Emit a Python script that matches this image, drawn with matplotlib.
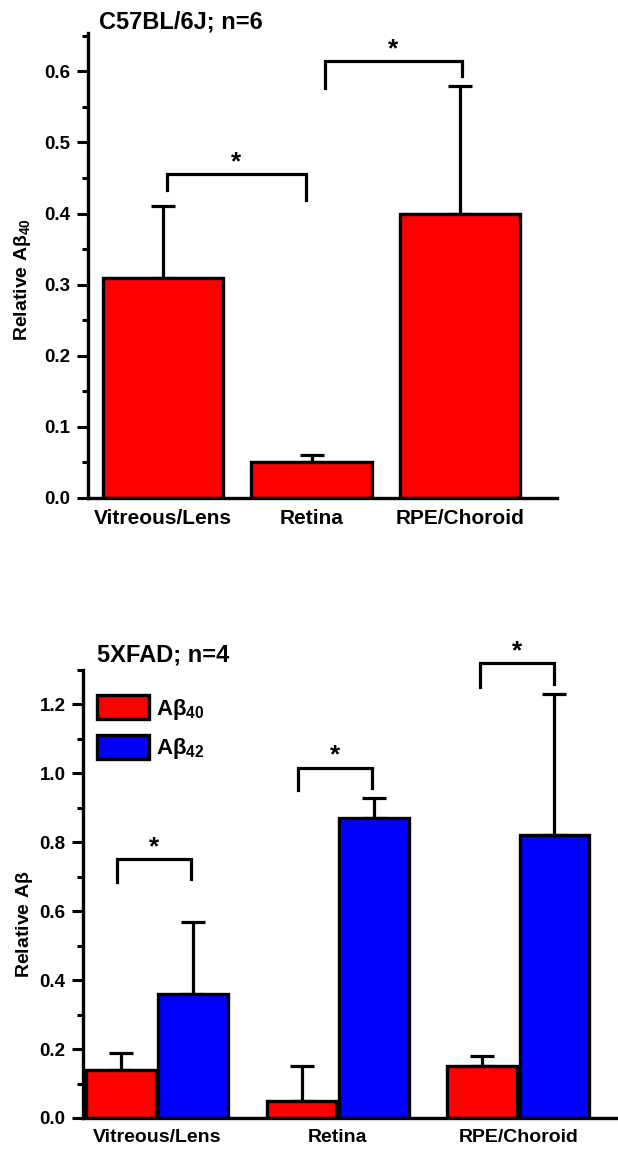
import numpy as np
import matplotlib
matplotlib.use("Agg")
import matplotlib.pyplot as plt
from matplotlib.ticker import MultipleLocator

plt.rcParams['font.family'] = ['Liberation Sans', 'DejaVu Sans']
plt.rcParams['font.weight'] = 'bold'
plt.rcParams['mathtext.fontset'] = 'custom'
plt.rcParams['mathtext.rm'] = 'Liberation Sans:bold'
plt.rcParams['mathtext.it'] = 'Liberation Sans:bold'
plt.rcParams['mathtext.bf'] = 'Liberation Sans:bold'

# top panel: C57BL/6J
tissues = ['Vitreous/Lens', 'Retina', 'RPE/Choroid']
wt_ab40 = [0.31, 0.05, 0.40]
wt_err = [0.10, 0.01, 0.18]
# significance brackets (left x, right x, top y, left tip y, right tip y)
wt_brackets = [(0.03, 0.96, 0.455, 0.433, 0.419),
               (1.09, 2.01, 0.614, 0.576, 0.593)]

# bottom panel: 5XFAD
fad_ab40 = [0.14, 0.05, 0.15]
fad_ab40_err = [0.05, 0.10, 0.03]
fad_ab42 = [0.36, 0.87, 0.82]
fad_ab42_err = [0.21, 0.06, 0.41]
fad_brackets = [(-0.22, 0.19, 0.751, 0.684, 0.693),
                (-0.22 + 1, 0.19 + 1, 1.017, 0.951, 0.957),
                (-0.21 + 2, 0.20 + 2, 1.319, 1.25, 1.258)]

W, H = 618, 1155
fig = plt.figure(figsize=(W / 100, H / 100), dpi=100)

def px_axes(l, r, t, b):
    return fig.add_axes([l / W, 1 - b / H, (r - l) / W, (b - t) / H])

def style(ax, xsize):
    for s in ['top', 'right']:
        ax.spines[s].set_visible(False)
    for s in ['left', 'bottom']:
        ax.spines[s].set_linewidth(2.4)
    ax.tick_params(axis='y', which='major', length=8, width=2.2, labelsize=13.5, pad=4.5)
    ax.tick_params(axis='y', which='minor', length=4.5, width=2.2)
    ax.tick_params(axis='x', length=0, labelsize=xsize, pad=8)
    for lab in ax.get_xticklabels() + ax.get_yticklabels():
        lab.set_fontweight('bold')

def bracket(ax, b):
    x0, x1, y, y0, y1 = b
    ax.plot([x0, x0, x1, x1], [y0, y, y, y1], color='black', lw=2.3,
            solid_joinstyle='miter', clip_on=False)
    ax.text((x0 + x1) / 2, y, '*', ha='center', va='bottom',
            fontsize=19, fontweight='bold', clip_on=False)

# ---- top ----
ax1 = px_axes(88, 557, 33, 498)
x = np.arange(len(tissues))
ax1.bar(x, wt_ab40, width=0.81, color='#ff0000', edgecolor='black', linewidth=2.4, zorder=2)
ax1.errorbar(x, wt_ab40, yerr=[np.zeros(3), wt_err], fmt='none', ecolor='black',
             elinewidth=2.3, capsize=8.5, capthick=2.3, zorder=1)
ax1.set_xlim(-0.505, 2.653)
ax1.set_ylim(0, 0.654)
ax1.yaxis.set_major_locator(MultipleLocator(0.1))
ax1.yaxis.set_minor_locator(MultipleLocator(0.05))
ax1.set_xticks(x)
ax1.set_xticklabels(tissues)
ax1.set_ylabel(r'Relative $\mathbf{Aβ_{40}}$', fontsize=14, fontweight='bold')
ax1.yaxis.set_label_coords(-0.117, 0.47)
style(ax1, 15)
for b in wt_brackets:
    bracket(ax1, b)
fig.text(99 / W, 1 - 21.5 / H, 'C57BL/6J; n=6', fontsize=17, fontweight='bold',
         ha='left', va='center')

# ---- bottom ----
ax2 = px_axes(83, 617, 670, 1118)
ax2.bar(x - 0.2, fad_ab40, width=0.385, color='#ff0000', edgecolor='black', linewidth=2.4,
        zorder=2, label=r'$\mathbf{Aβ_{40}}$')
ax2.bar(x + 0.2, fad_ab42, width=0.385, color='#0000ff', edgecolor='black', linewidth=2.4,
        zorder=2, label=r'$\mathbf{Aβ_{42}}$')
ax2.errorbar(x - 0.2, fad_ab40, yerr=[np.zeros(3), fad_ab40_err], fmt='none', ecolor='black',
             elinewidth=2.3, capsize=8.5, capthick=2.3, zorder=1)
ax2.errorbar(x + 0.2, fad_ab42, yerr=[np.zeros(3), fad_ab42_err], fmt='none', ecolor='black',
             elinewidth=2.3, capsize=8.5, capthick=2.3, zorder=1)
ax2.set_xlim(-0.41, 2.547)
ax2.set_ylim(0, 1.30)
ax2.yaxis.set_major_locator(MultipleLocator(0.2))
ax2.yaxis.set_minor_locator(MultipleLocator(0.1))
ax2.set_xticks(x)
ax2.set_xticklabels(tissues)
ax2.set_ylabel(r'Relative $\mathbf{Aβ}$', fontsize=14, fontweight='bold')
ax2.yaxis.set_label_coords(-0.09, 0.433)
style(ax2, 14)
for b in fad_brackets:
    bracket(ax2, b)
leg = ax2.legend(loc='upper left', bbox_to_anchor=(97 / W, 1 - 695 / H),
                 bbox_transform=fig.transFigure, frameon=False, fontsize=16,
                 handlelength=2.35, handleheight=1.3, handletextpad=0.3,
                 labelspacing=0.6, borderpad=0, borderaxespad=0)
fig.text(97 / W, 1 - 655 / H, '5XFAD; n=4', fontsize=17, fontweight='bold',
         ha='left', va='center')

fig.savefig('out.png', dpi=100)
